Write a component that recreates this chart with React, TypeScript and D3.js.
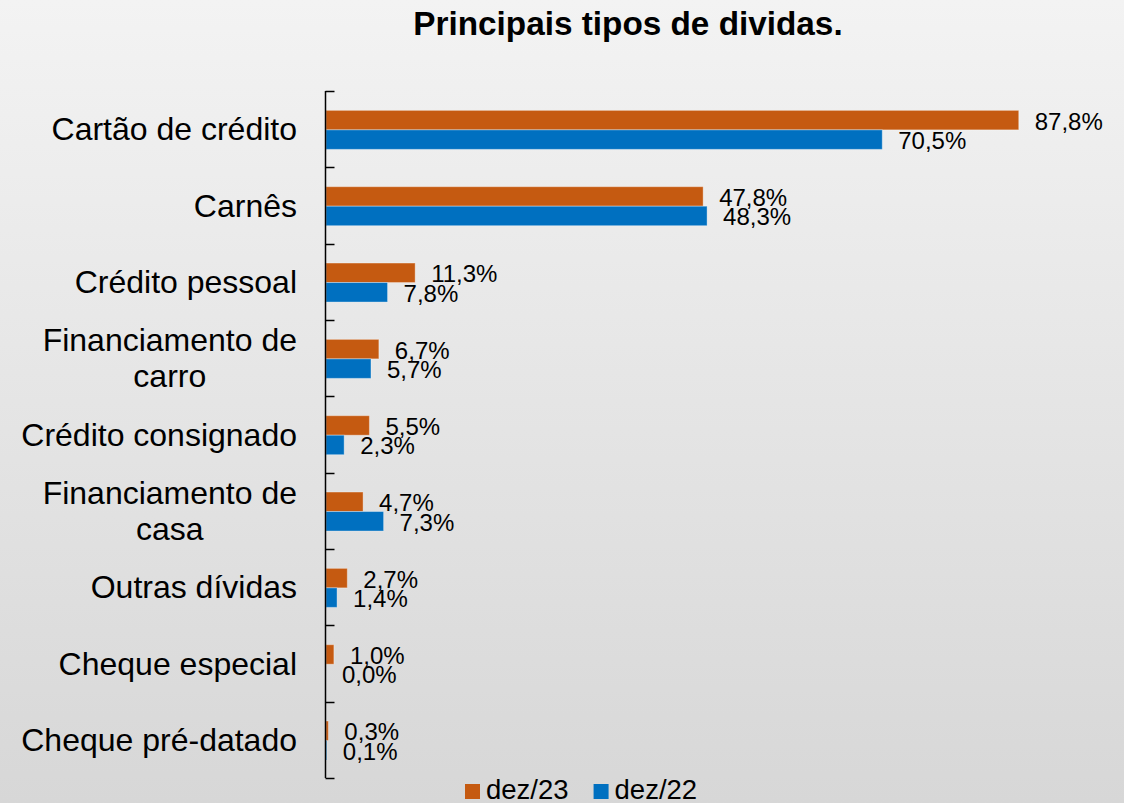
import React, { useEffect, useRef } from "react";
import * as d3 from "d3";

const categories: string[][] = [
  ["Cartão de crédito"],
  ["Carnês"],
  ["Crédito pessoal"],
  ["Financiamento de", "carro"],
  ["Crédito consignado"],
  ["Financiamento de", "casa"],
  ["Outras dívidas"],
  ["Cheque especial"],
  ["Cheque pré-datado"],
];
const seriesNames = ["dez/23", "dez/22"];
const dez23 = [87.8, 47.8, 11.3, 6.7, 5.5, 4.7, 2.7, 1.0, 0.3];
const dez22 = [70.5, 48.3, 7.8, 5.7, 2.3, 7.3, 1.4, 0.0, 0.1];
const seriesValues = [dez23, dez22];
const colors = ["#C55A11", "#0070C0"];
const title = "Principais tipos de dividas.";

const W = 1124;
const H = 803;
const FONT = "'Liberation Sans', Arial, sans-serif";

export default function App() {
  const ref = useRef<SVGSVGElement | null>(null);

  useEffect(() => {
    const svg = d3.select(ref.current);
    svg.selectAll("*").remove();

    const defs = svg.append("defs");
    const grad = defs
      .append("linearGradient")
      .attr("id", "bg")
      .attr("x1", 0)
      .attr("y1", 0)
      .attr("x2", 0)
      .attr("y2", 1);
    grad.append("stop").attr("offset", "0%").attr("stop-color", "#f3f3f3");
    grad.append("stop").attr("offset", "100%").attr("stop-color", "#d7d7d7");
    svg.append("rect").attr("width", W).attr("height", H).attr("fill", "url(#bg)");

    svg
      .append("text")
      .attr("x", 628)
      .attr("y", 35)
      .attr("text-anchor", "middle")
      .attr("font-family", FONT)
      .attr("font-weight", "bold")
      .attr("font-size", 33.3)
      .attr("fill", "#000")
      .text(title);

    const keys = categories.map((c) => c.join(" "));
    const y0 = d3.scaleBand<string>().domain(keys).range([91, 778]).padding(0);
    const groupH = 39;
    const y1 = d3.scaleBand<string>().domain(seriesNames).range([0, groupH]).padding(0);
    const x = d3.scaleLinear().domain([0, 100]).range([326, 1115]);

    const fmt = (v: number) => v.toFixed(1).replace(".", ",") + "%";

    // bars
    keys.forEach((k, i) => {
      const top = (y0(k) as number) + (y0.bandwidth() - groupH) / 2 + 0.7;
      seriesNames.forEach((s, j) => {
        const v = seriesValues[j][i];
        const yy = top + (y1(s) as number);
        svg
          .append("rect")
          .attr("x", x(0))
          .attr("y", yy)
          .attr("width", Math.max(0, x(v) - x(0)))
          .attr("height", y1.bandwidth())
          .attr("fill", colors[j])
          .attr("stroke", v > 0 ? "rgba(255,255,255,0.35)" : "none")
          .attr("stroke-width", 1);
        svg
          .append("text")
          .attr("x", x(v) + 16)
          .attr("y", yy + y1.bandwidth() / 2 + 1)
          .attr("dy", "0.35em")
          .attr("font-family", FONT)
          .attr("font-size", 24)
          .attr("fill", "#000")
          .text(fmt(v));
      });
    });

    // axis
    const axisX = 325.5;
    svg
      .append("line")
      .attr("x1", axisX)
      .attr("x2", axisX)
      .attr("y1", 91)
      .attr("y2", 778)
      .attr("stroke", "#000")
      .attr("stroke-width", 1.5);
    const tickYs = keys.map((k) => y0(k) as number).concat([778]);
    tickYs.forEach((ty) => {
      svg
        .append("line")
        .attr("x1", axisX)
        .attr("x2", axisX + 9)
        .attr("y1", Math.round(ty) + 0.5)
        .attr("y2", Math.round(ty) + 0.5)
        .attr("stroke", "#000")
        .attr("stroke-width", 1.5);
    });

    // category labels
    const labelRight = 297;
    const lineH = 36;
    categories.forEach((lines, i) => {
      const cy = (y0(keys[i]) as number) + y0.bandwidth() / 2;
      const g = svg.append("g");
      const texts = lines.map((ln, li) =>
        g
          .append("text")
          .attr("y", cy + (li - (lines.length - 1) / 2) * lineH)
          .attr("dy", "0.35em")
          .attr("font-family", FONT)
          .attr("font-size", 32)
          .attr("fill", "#000")
          .text(ln)
      );
      const widths = texts.map((t) => (t.node() as SVGTextElement).getComputedTextLength());
      const maxW = Math.max(...widths);
      texts.forEach((t) => t.attr("x", labelRight - maxW / 2).attr("text-anchor", "middle"));
    });

    // legend
    const legend = svg.append("g");
    let lx = 465;
    seriesNames.forEach((s, j) => {
      legend
        .append("rect")
        .attr("x", lx)
        .attr("y", 784)
        .attr("width", 15)
        .attr("height", 15)
        .attr("fill", colors[j]);
      const t = legend
        .append("text")
        .attr("x", lx + 21)
        .attr("y", 799)
        .attr("font-family", FONT)
        .attr("font-size", 27.5)
        .attr("fill", "#000")
        .text(s);
      const tw = (t.node() as SVGTextElement).getComputedTextLength();
      lx = lx + 21 + tw + 25;
    });
  }, []);

  return (
    <svg
      ref={ref}
      width={W}
      height={H}
      style={{ position: "absolute", left: 0, top: 0, display: "block" }}
    />
  );
}
